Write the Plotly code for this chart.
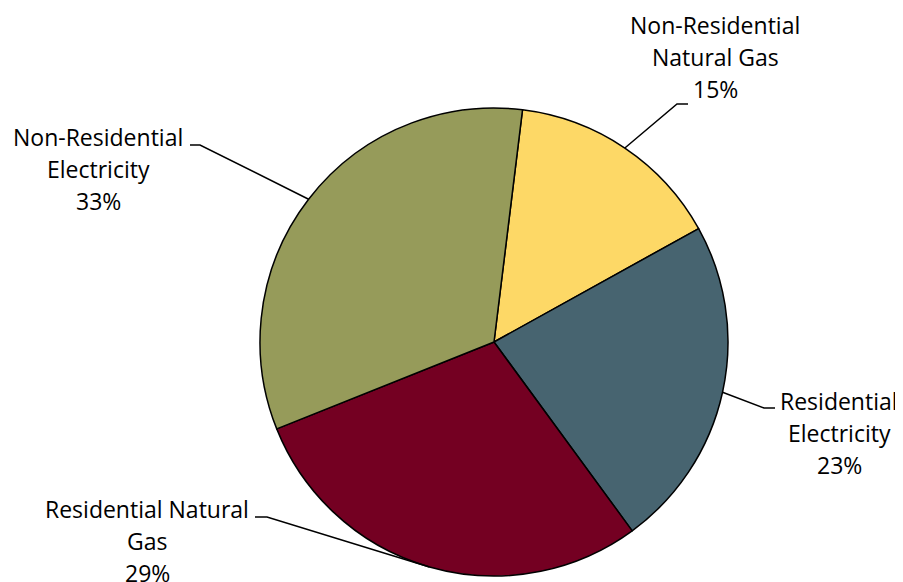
import numpy as np
import plotly.graph_objects as go

# data
categories = ["Non-Residential Natural Gas", "Residential Electricity",
              "Residential Natural Gas", "Non-Residential Electricity"]
values = [15, 23, 29, 33]
label_lines = [["Non-Residential", "Natural Gas", "15%"],
               ["Residential", "Electricity", "23%"],
               ["Residential Natural", "Gas", "29%"],
               ["Non-Residential", "Electricity", "33%"]]
colors = ["#FDD866", "#476470", "#740022", "#969B5A"]

W, H = 903, 582
OFF = 8  # page margin of the rendered html
cx, cy, R = 494, 342, 234
rotation = 7

# label layout (pixel space): text center x, first line y, elbow, stub end
label_x = [715, 839, 147, 98]
label_y0 = [25, 401, 509, 137]
line_gap = 32
elbows = [(677, 104), (764, 408), (267, 517), (200, 145)]
stubs = [(688, 104), (775, 408), (255, 517), (190, 145)]


def px(x):
    return (x - OFF) / W


def py(y):
    return 1 - (y - OFF) / H


fig = go.Figure(go.Pie(
    labels=categories,
    values=values,
    sort=False,
    direction="clockwise",
    rotation=rotation,
    textinfo="none",
    hoverinfo="label+percent",
    marker=dict(colors=colors, line=dict(color="black", width=1.5)),
    domain=dict(x=[px(cx - R), px(cx + R)], y=[py(cy + R), py(cy - R)]),
    showlegend=False,
))

# leader lines from slice mid-angles
total = sum(values)
cum = np.cumsum([0] + values)
shapes = []
annotations = []
for i, v in enumerate(values):
    mid = np.radians(rotation + 360 * (cum[i] + v / 2) / total)
    ex, ey = cx + R * np.sin(mid), cy - R * np.cos(mid)
    (bx, by), (sx, sy) = elbows[i], stubs[i]
    path = f"M {px(ex)},{py(ey)} L {px(bx)},{py(by)} L {px(sx)},{py(sy)}"
    shapes.append(dict(type="path", path=path, xref="paper", yref="paper",
                       line=dict(color="black", width=1.5)))
    for j, t in enumerate(label_lines[i]):
        annotations.append(dict(
            text=t, x=px(label_x[i]), y=py(label_y0[i] + j * line_gap),
            xref="paper", yref="paper", xanchor="center", yanchor="middle",
            showarrow=False, font=dict(size=23, color="black")))

fig.update_layout(
    width=W, height=H,
    margin=dict(l=0, r=0, t=0, b=0),
    paper_bgcolor="white",
    font=dict(family="Open Sans, sans-serif"),
    shapes=shapes,
    annotations=annotations,
)

fig.write_html("out.html")
